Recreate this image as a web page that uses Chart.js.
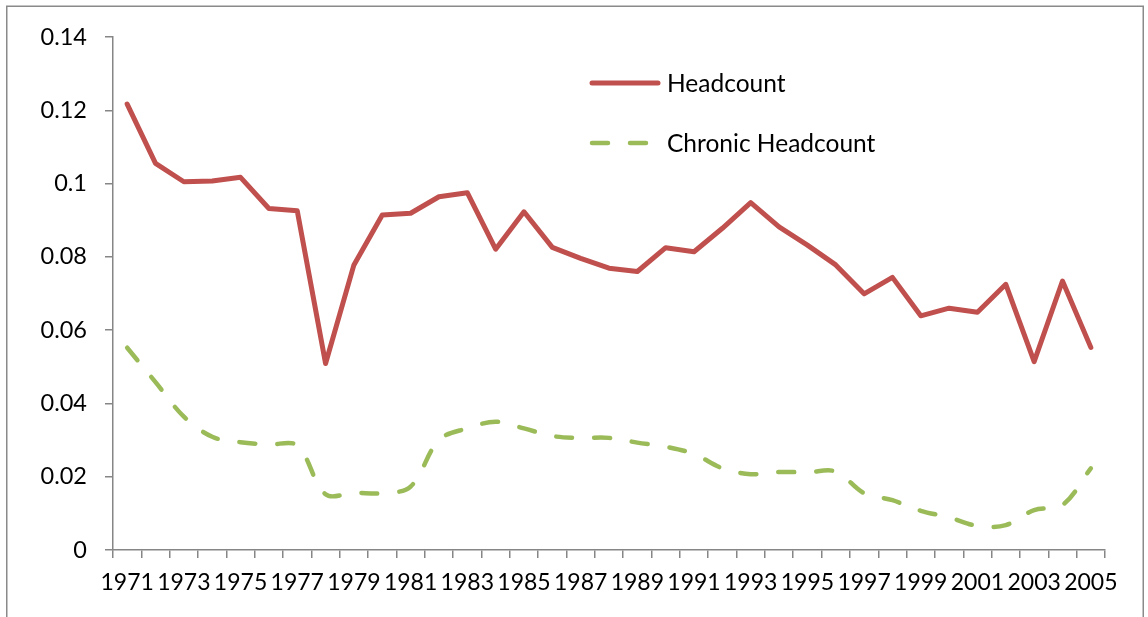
<!DOCTYPE html>
<html>
<head>
<meta charset="utf-8">
<title>Headcount</title>
<script src="https://cdn.jsdelivr.net/npm/chart.js@4.4.1/dist/chart.umd.min.js"></script>
<style>
  body { margin: 0; background: #fff; }
  #wrap { position: relative; width: 1148px; height: 617px; }
</style>
</head>
<body>
<div id="wrap">
  <canvas id="chartHeadcount" width="1148" height="617"></canvas>
</div>
<script>
// Datos
const years = ['1971', '1972', '1973', '1974', '1975', '1976', '1977', '1978', '1979', '1980',
  '1981', '1982', '1983', '1984', '1985', '1986', '1987', '1988', '1989', '1990',
  '1991', '1992', '1993', '1994', '1995', '1996', '1997', '1998', '1999', '2000',
  '2001', '2002', '2003', '2004', '2005'];

const headcount = [0.1217, 0.1055, 0.1005, 0.1007, 0.1017, 0.0932, 0.0926, 0.0509, 0.0778, 0.0914,
  0.0919, 0.0964, 0.0975, 0.0821, 0.0923, 0.0826, 0.0796, 0.0769, 0.0760, 0.0825,
  0.0814, 0.0878, 0.0948, 0.0882, 0.0832, 0.0778, 0.0699, 0.0744, 0.0639, 0.0660,
  0.0649, 0.0725, 0.0514, 0.0734, 0.0553];

const chronicHeadcount = [0.0552, 0.0458, 0.0364, 0.0309, 0.0294, 0.0288, 0.0285, 0.0152, 0.0156, 0.0155,
  0.0173, 0.0300, 0.0332, 0.0350, 0.0332, 0.0311, 0.0306, 0.0306, 0.0293, 0.0282,
  0.0262, 0.0223, 0.0207, 0.0213, 0.0212, 0.0214, 0.0155, 0.0136, 0.0107, 0.0089,
  0.0066, 0.0068, 0.0109, 0.0123, 0.0223];

const yTicks = [0, 0.02, 0.04, 0.06, 0.08, 0.1, 0.12, 0.14];

const axisColor = '#868686';
const fontFamily = 'Lato, "Open Sans", sans-serif';

// marco gris alrededor del grafico
const borderPlugin = {
  id: 'marco',
  beforeDraw(chart) {
    const ctx = chart.ctx;
    ctx.save();
    ctx.strokeStyle = '#8a8a8a';
    ctx.lineWidth = 1.5;
    ctx.strokeRect(6.75, 6.25, 1136.5, 640);
    ctx.restore();
  }
};

// leyenda dentro del area del grafico
const legendPlugin = {
  id: 'leyendaInterna',
  afterDraw(chart) {
    const ctx = chart.ctx;
    const rows = [
      { y: 83, ds: chart.data.datasets[0] },
      { y: 143, ds: chart.data.datasets[1] },
    ];
    ctx.save();
    rows.forEach(({ y, ds }) => {
      ctx.beginPath();
      ctx.strokeStyle = ds.borderColor;
      ctx.lineWidth = ds.borderWidth;
      ctx.lineCap = 'round';
      ctx.setLineDash(ds.borderDash || []);
      ctx.moveTo(592, y);
      ctx.lineTo(658, y);
      ctx.stroke();
      ctx.setLineDash([]);
      ctx.fillStyle = '#000';
      ctx.font = '24.5px ' + fontFamily;
      ctx.textBaseline = 'middle';
      ctx.textAlign = 'left';
      ctx.fillText(ds.label, 667, y + 1);
    });
    ctx.restore();
  }
};

new Chart(document.getElementById('chartHeadcount'), {
  type: 'line',
  data: {
    labels: years,
    datasets: [
      {
        label: 'Headcount',
        data: headcount,
        borderColor: '#C0504D',
        borderWidth: 5,
        pointRadius: 0,
        tension: 0,
        borderJoinStyle: 'round',
        borderCapStyle: 'round',
      },
      {
        label: 'Chronic Headcount',
        data: chronicHeadcount,
        borderColor: '#9BBB59',
        borderWidth: 4.5,
        borderDash: [16, 22],
        borderCapStyle: 'round',
        pointRadius: 0,
        tension: 0.35,
      },
    ],
  },
  options: {
    responsive: false,
    animation: false,
    layout: {
      padding: { top: 37, right: 43, left: 0, bottom: 0 },
    },
    plugins: {
      legend: { display: false },
      tooltip: { enabled: false },
    },
    scales: {
      x: {
        type: 'category',
        offset: true,
        grid: {
          offset: true,
          drawOnChartArea: false,
          color: axisColor,
          tickLength: 8,
          lineWidth: 1.5,
        },
        border: { display: true, color: axisColor, width: 1.5 },
        ticks: {
          autoSkip: false,
          maxRotation: 0,
          color: '#000',
          padding: 11,
          font: { family: fontFamily, size: 23 },
          callback: (val, i) => (i % 2 === 0 ? years[i] : ''),
        },
        afterFit: (scale) => { scale.height = 67; },
      },
      y: {
        min: 0,
        max: 0.14,
        afterBuildTicks: (scale) => { scale.ticks = yTicks.map((v) => ({ value: v })); },
        grid: {
          drawOnChartArea: false,
          color: axisColor,
          tickLength: 8,
          lineWidth: 1.5,
        },
        border: { display: true, color: axisColor, width: 1.5 },
        ticks: {
          color: '#000',
          padding: 18,
          font: { family: fontFamily, size: 23.5 },
          callback: (v) => String(Number(v.toFixed(2))),
        },
        afterFit: (scale) => { scale.width = 113; },
      },
    },
  },
  plugins: [borderPlugin, legendPlugin],
});
</script>
</body>
</html>
